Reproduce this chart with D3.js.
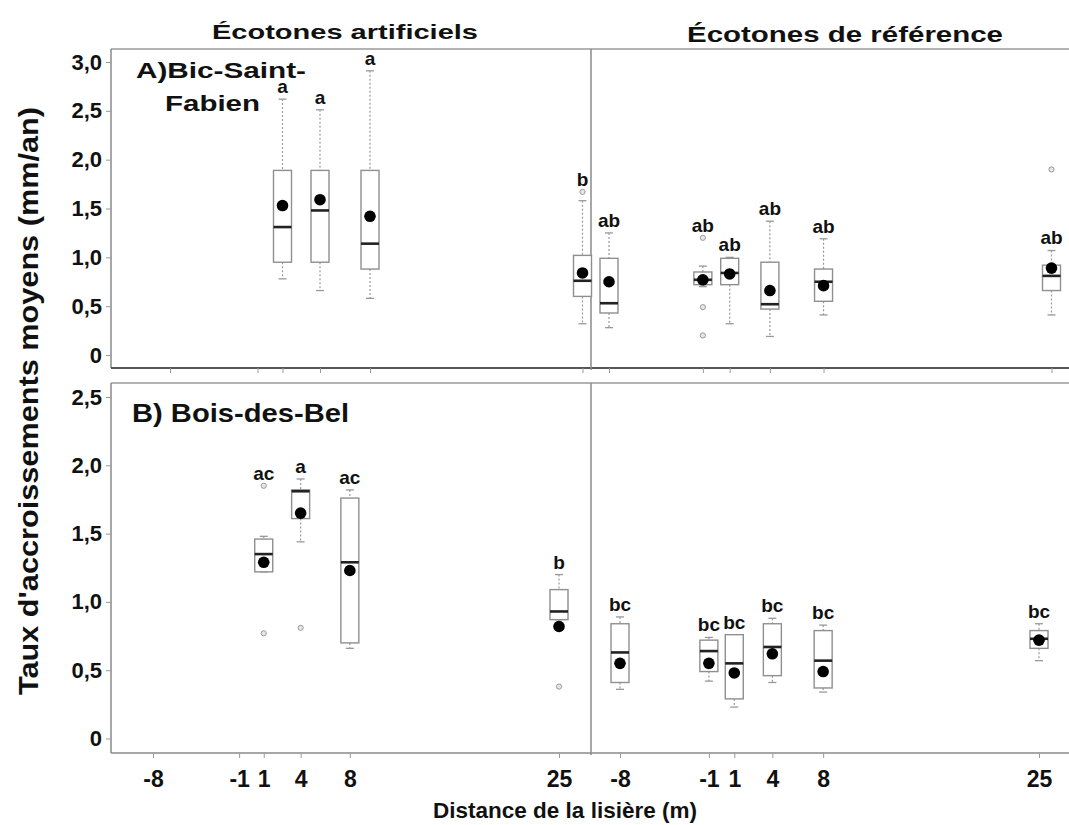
<!DOCTYPE html>
<html>
<head>
<meta charset="utf-8">
<script src="https://cdn.jsdelivr.net/npm/d3@7"></script>
<style>
  html, body { margin: 0; padding: 0; background: #fff; }
  svg { display: block; }
  text { font-family: "Liberation Sans", Arial, sans-serif; font-weight: bold; fill: #111; }
</style>
</head>
<body>
<svg id="chart" width="1069" height="825"></svg>
<script>
// ---------------- DATA ----------------
const distances = [-8, -1, 1, 4, 8, 25];
const xTickLabels = ["-8", "-1", "1", "4", "8", "25"];
const yTicksTop = [0, 0.5, 1, 1.5, 2, 2.5, 3];
const yTicksBottom = [0, 0.5, 1, 1.5, 2, 2.5];
const groupTitles = ["Écotones artificiels", "Écotones de référence"];
const yTitle = "Taux d'accroissements moyens (mm/an)";
const xTitle = "Distance de la lisière (m)";

// A) Bic-Saint-Fabien — artificial ecotones
const bicArtificial = [
  { d: 1,  lo: 0.78, q1: 0.95, med: 1.31, q3: 1.89, hi: 2.62, mean: 1.53, out: [],     grp: "a" },
  { d: 4,  lo: 0.66, q1: 0.95, med: 1.48, q3: 1.89, hi: 2.51, mean: 1.59, out: [],     grp: "a" },
  { d: 8,  lo: 0.58, q1: 0.88, med: 1.14, q3: 1.89, hi: 2.91, mean: 1.42, out: [],     grp: "a" },
  { d: 25, lo: 0.32, q1: 0.60, med: 0.76, q3: 1.02, hi: 1.58, mean: 0.84, out: [1.67], grp: "b" }
];
// A) Bic-Saint-Fabien — reference ecotones
const bicReference = [
  { d: -8, lo: 0.28, q1: 0.43, med: 0.53, q3: 0.99, hi: 1.25, mean: 0.75, out: [],                 grp: "ab" },
  { d: -1, lo: 0.70, q1: 0.72, med: 0.77, q3: 0.85, hi: 0.91, mean: 0.77, out: [1.20, 0.49, 0.20], grp: "ab" },
  { d: 1,  lo: 0.32, q1: 0.72, med: 0.84, q3: 0.99, hi: 1.00, mean: 0.83, out: [],                 grp: "ab" },
  { d: 4,  lo: 0.19, q1: 0.47, med: 0.52, q3: 0.95, hi: 1.37, mean: 0.66, out: [],                 grp: "ab" },
  { d: 8,  lo: 0.41, q1: 0.55, med: 0.75, q3: 0.88, hi: 1.19, mean: 0.71, out: [],                 grp: "ab" },
  { d: 25, lo: 0.41, q1: 0.66, med: 0.81, q3: 0.92, hi: 1.07, mean: 0.89, out: [1.90],             grp: "ab" }
];
// B) Bois-des-Bel — artificial ecotones
const bdbArtificial = [
  { d: 1,  lo: 1.22, q1: 1.22, med: 1.35, q3: 1.46, hi: 1.48, mean: 1.29, out: [1.85, 0.77], grp: "ac" },
  { d: 4,  lo: 1.44, q1: 1.61, med: 1.81, q3: 1.82, hi: 1.90, mean: 1.65, out: [0.81],       grp: "a" },
  { d: 8,  lo: 0.66, q1: 0.70, med: 1.29, q3: 1.76, hi: 1.82, mean: 1.23, out: [],           grp: "ac" },
  { d: 25, lo: 0.87, q1: 0.87, med: 0.93, q3: 1.09, hi: 1.20, mean: 0.82, out: [0.38],       grp: "b" }
];
// B) Bois-des-Bel — reference ecotones
const bdbReference = [
  { d: -8, lo: 0.36, q1: 0.41, med: 0.63, q3: 0.84, hi: 0.89, mean: 0.55, out: [], grp: "bc" },
  { d: -1, lo: 0.42, q1: 0.49, med: 0.64, q3: 0.72, hi: 0.74, mean: 0.55, out: [], grp: "bc" },
  { d: 1,  lo: 0.23, q1: 0.29, med: 0.55, q3: 0.76, hi: 0.76, mean: 0.48, out: [], grp: "bc" },
  { d: 4,  lo: 0.41, q1: 0.46, med: 0.67, q3: 0.84, hi: 0.88, mean: 0.62, out: [], grp: "bc" },
  { d: 8,  lo: 0.34, q1: 0.37, med: 0.57, q3: 0.79, hi: 0.83, mean: 0.49, out: [], grp: "bc" },
  { d: 25, lo: 0.57, q1: 0.66, med: 0.73, q3: 0.79, hi: 0.84, mean: 0.72, out: [], grp: "bc" }
];

// ---------------- LAYOUT ----------------
const frameLeft = 111, divider = 591, frameRight = 1075;
const boxW = 18, capW = 8;
const grey = "#8f8f8f";

const svg = d3.select("#chart");

const panels = [
  {
    top: 49, bottom: 368, domain: [0, 3], range: [355, 62], ticks: yTicksTop,
    xLeft: [170, 582.5], xRight: [609, 1051.5], groups: [bicArtificial, bicReference],
    bottomStroke: "#555", bottomWidth: 2, tickLabels: false
  },
  {
    top: 383, bottom: 753, domain: [0, 2.5], range: [738.5, 397], ticks: yTicksBottom,
    xLeft: [153, 559], xRight: [620, 1039], groups: [bdbArtificial, bdbReference],
    bottomStroke: "#8a8a8a", bottomWidth: 1.5, tickLabels: true
  }
];

const fmt = v => v === 0 ? "0" : d3.format(".1f")(v).replace(".", ",");
// letter sits above the whisker, or above an outlier lying close above it
const labelTop = d => Math.max(d.hi, d.q3, ...d.out.filter(v => v > d.hi && v - d.hi < 0.5));

panels.forEach(p => {
  const y = d3.scaleLinear().domain(p.domain).range(p.range);
  const xs = [
    d3.scaleLinear().domain([-8, 25]).range(p.xLeft),
    d3.scaleLinear().domain([-8, 25]).range(p.xRight)
  ];
  const g = svg.append("g");

  // frame
  g.append("line").attr("x1", frameLeft).attr("x2", frameRight).attr("y1", p.top).attr("y2", p.top)
    .attr("stroke", "#9a9a9a").attr("stroke-width", 1.5);
  g.append("line").attr("x1", frameLeft).attr("x2", frameLeft).attr("y1", p.top).attr("y2", p.bottom)
    .attr("stroke", "#8a8a8a").attr("stroke-width", 1.5);
  g.append("line").attr("x1", frameLeft).attr("x2", frameRight).attr("y1", p.bottom).attr("y2", p.bottom)
    .attr("stroke", p.bottomStroke).attr("stroke-width", p.bottomWidth);
  g.append("line").attr("x1", divider).attr("x2", divider).attr("y1", p.top).attr("y2", p.bottom + 2)
    .attr("stroke", "#8a8a8a").attr("stroke-width", 1.5);

  // y axis
  const yAxis = d3.axisLeft(y).tickValues(p.ticks).tickFormat(fmt).tickSize(5).tickPadding(4);
  const ya = g.append("g").attr("transform", `translate(${frameLeft},0)`).call(yAxis);
  ya.select(".domain").remove();
  ya.selectAll(".tick line").attr("stroke", "#999");
  ya.selectAll(".tick text").style("font-size", "22px").style("font-family", '"Liberation Sans", Arial, sans-serif')
    .style("font-weight", "bold").attr("fill", "#111");

  // x axes
  xs.forEach(x => {
    const xAxis = d3.axisBottom(x).tickValues(distances)
      .tickFormat((d, i) => p.tickLabels ? xTickLabels[i] : "").tickSize(5).tickPadding(13);
    const xa = g.append("g").attr("transform", `translate(0,${p.bottom})`).call(xAxis);
    xa.select(".domain").remove();
    xa.selectAll(".tick line").attr("stroke", "#999");
    xa.selectAll(".tick text").style("font-size", "23px").style("font-family", '"Liberation Sans", Arial, sans-serif')
      .style("font-weight", "bold").attr("fill", "#111");
  });

  // boxplots
  p.groups.forEach((data, gi) => {
    const x = xs[gi];
    const bg = g.append("g");
    const b = bg.selectAll("g.box").data(data).join("g").attr("class", "box");

    // whiskers (dotted)
    b.append("line").attr("x1", d => x(d.d)).attr("x2", d => x(d.d))
      .attr("y1", d => y(d.hi)).attr("y2", d => y(d.q3))
      .attr("stroke", "#999").attr("stroke-width", 1.2).attr("stroke-dasharray", "2,2");
    b.append("line").attr("x1", d => x(d.d)).attr("x2", d => x(d.d))
      .attr("y1", d => y(d.q1)).attr("y2", d => y(d.lo))
      .attr("stroke", "#999").attr("stroke-width", 1.2).attr("stroke-dasharray", "2,2");
    // caps
    b.append("line").attr("x1", d => x(d.d) - capW / 2).attr("x2", d => x(d.d) + capW / 2)
      .attr("y1", d => y(d.hi)).attr("y2", d => y(d.hi)).attr("stroke", "#999").attr("stroke-width", 1.3);
    b.append("line").attr("x1", d => x(d.d) - capW / 2).attr("x2", d => x(d.d) + capW / 2)
      .attr("y1", d => y(d.lo)).attr("y2", d => y(d.lo)).attr("stroke", "#999").attr("stroke-width", 1.3);
    // box
    b.append("rect").attr("x", d => x(d.d) - boxW / 2).attr("width", boxW)
      .attr("y", d => y(d.q3)).attr("height", d => y(d.q1) - y(d.q3))
      .attr("fill", "#fff").attr("stroke", grey).attr("stroke-width", 1.4);
    // median
    b.append("line").attr("x1", d => x(d.d) - boxW / 2).attr("x2", d => x(d.d) + boxW / 2)
      .attr("y1", d => y(d.med)).attr("y2", d => y(d.med)).attr("stroke", "#222").attr("stroke-width", 2.6);
    // outliers
    b.selectAll("circle.out").data(d => d.out.map(v => ({ d: d.d, v }))).join("circle").attr("class", "out")
      .attr("cx", o => x(o.d)).attr("cy", o => y(o.v)).attr("r", 2.6)
      .attr("fill", "#e6e6e6").attr("stroke", "#9a9a9a").attr("stroke-width", 1);
    // mean
    b.append("circle").attr("cx", d => x(d.d)).attr("cy", d => y(d.mean)).attr("r", 5.8).attr("fill", "#000");
    // group letters
    b.append("text").attr("x", d => x(d.d))
      .attr("y", d => y(labelTop(d)) - 6)
      .attr("text-anchor", "middle").style("font-size", "19px").attr("fill", "#222")
      .text(d => d.grp);
  });
});

// group titles
svg.append("text").attr("x", 345).attr("y", 39).attr("text-anchor", "middle")
  .style("font-size", "21px").attr("textLength", 266).attr("lengthAdjust", "spacingAndGlyphs").text(groupTitles[0]);
svg.append("text").attr("x", 845).attr("y", 42).attr("text-anchor", "middle")
  .style("font-size", "22px").attr("textLength", 316).attr("lengthAdjust", "spacingAndGlyphs").text(groupTitles[1]);

// panel labels
svg.append("text").attr("x", 136).attr("y", 78).style("font-size", "22px")
  .attr("textLength", 170).attr("lengthAdjust", "spacingAndGlyphs").text("A)Bic-Saint-");
svg.append("text").attr("x", 165).attr("y", 111).style("font-size", "22px")
  .attr("textLength", 95).attr("lengthAdjust", "spacingAndGlyphs").text("Fabien");
svg.append("text").attr("x", 132).attr("y", 422).style("font-size", "26px")
  .attr("textLength", 217).attr("lengthAdjust", "spacingAndGlyphs").text("B) Bois-des-Bel");

// axis titles
svg.append("text").attr("transform", "translate(38,401) rotate(-90)").attr("text-anchor", "middle")
  .style("font-size", "28px").attr("textLength", 588).attr("lengthAdjust", "spacingAndGlyphs").text(yTitle);
svg.append("text").attr("x", 565).attr("y", 818).attr("text-anchor", "middle")
  .style("font-size", "22.5px").text(xTitle);
</script>
</body>
</html>
